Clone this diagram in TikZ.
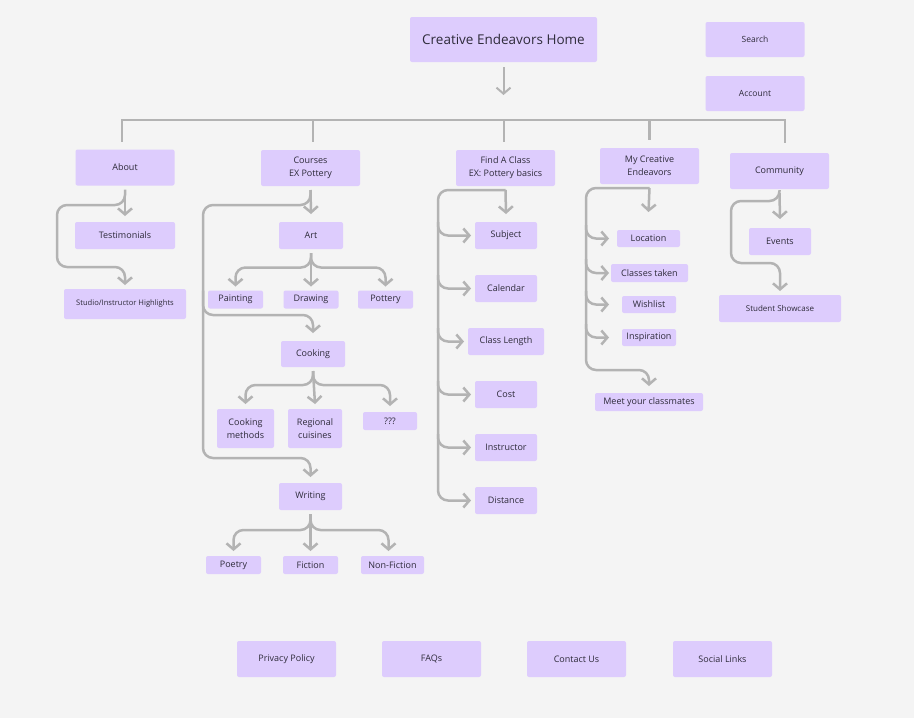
\documentclass[tikz,border=0pt]{standalone}
\usepackage{fontspec}
\setmainfont{Open Sans}
\usetikzlibrary{positioning}
\usetikzlibrary{arrows.meta}
\definecolor{bgGray}{HTML}{F4F4F4}
\definecolor{boxLilac}{HTML}{DDCCFD}
\definecolor{lineGray}{HTML}{B3B3B3}
\definecolor{textDark}{HTML}{2E2B3A}

\begin{document}
\begin{tikzpicture}
[
x=1pt, y=-1pt,
% 文字の設定
every node/.style={inner sep=0, outer sep=0, text=textDark, align=center,
font=\fontsize{9}{13}\selectfont},
% 小さい文字
smalltext/.style={font=\fontsize{7.6}{9}\selectfont},
% ページのブロック
box/.style={rectangle, fill=boxLilac, rounded corners=2pt},
main/.style={box, minimum width=99pt, minimum height=36pt},
sub/.style={box, minimum width=62pt, minimum height=27pt},
leaf/.style={box, minimum width=55pt, minimum height=18pt},
% 線
line/.style={draw=lineGray, line width=2.5pt, rounded corners=10pt},
% 矢印の設定
arrow/.style={line, -{Straight Barb[length=6pt, width=14pt]}}
]
% 背景
\useasboundingbox (0,0) rectangle (914,718);
\fill[bgGray] (0,0) rectangle (914,718);

% ブロックの配置
\node[box, minimum width=187pt, minimum height=45pt, font=\fontsize{13.5}{16}\selectfont]
  (home) at (503.5,39.5) {Creative Endeavors Home};
\node[main, minimum height=35pt, font=\fontsize{8.5}{10}\selectfont] (search) at (755,39.5) {Search};
\node[main, minimum height=35pt, font=\fontsize{8.5}{10}\selectfont] (account) at (755,93.5) {Account};

\node[main] (about) at (125,167.5) {About};
\node[main] (courses) at (310.5,168) {Courses\\EX Pottery};
\node[main] (find) at (505.5,168) {Find A Class\\EX: Pottery basics};
\node[main] (myce) at (649.5,166) {My Creative\\Endeavors};
\node[main] (community) at (779.5,171) {Community};

% About
\node[sub, minimum width=100pt] (testim) at (125,235.5) {Testimonials};
\node[sub, minimum width=122pt, minimum height=30pt, smalltext] (studio) at (125,304)
  {Studio/Instructor Highlights};

% Courses
\node[sub, minimum width=64pt] (art) at (311,235.5) {Art};
\node[leaf] (painting) at (235.5,299.5) {Painting};
\node[leaf] (drawing) at (311,299.5) {Drawing};
\node[leaf] (pottery) at (385.5,299.5) {Pottery};
\node[sub, minimum width=64pt, minimum height=26pt] (cooking) at (313,354) {Cooking};
\node[leaf, minimum width=57pt, minimum height=39pt] (methods) at (245.5,428.5) {Cooking\\methods};
\node[leaf, minimum width=54pt, minimum height=39pt] (regional) at (315,428.5) {Regional\\cuisines};
\node[leaf, minimum width=54pt] (unknown) at (390,421) {???};
\node[sub, minimum width=63pt] (writing) at (310.5,496.5) {Writing};
\node[leaf] (poetry) at (233.5,565) {Poetry};
\node[leaf] (fiction) at (310.5,565) {Fiction};
\node[leaf, minimum width=63pt] (nonfiction) at (392.5,565) {Non-Fiction};

% Find A Class
\node[sub] (subject) at (506,235.5) {Subject};
\node[sub, below=26pt of subject] (calendar) {Calendar};
\node[sub, minimum width=76pt, below=26pt of calendar] (length) {Class Length};
\node[sub, below=26pt of length] (cost) {Cost};
\node[sub, below=26pt of cost] (instructor) {Instructor};
\node[sub, below=26pt of instructor] (distance) {Distance};

% My Creative Endeavors
\node[leaf, minimum width=63pt, minimum height=17pt] (location) at (648.5,238.5) {Location};
\node[leaf, minimum width=77pt] (taken) at (649.5,273) {Classes taken};
\node[leaf, minimum width=54pt, minimum height=17pt] (wishlist) at (649,304.5) {Wishlist};
\node[leaf, minimum width=54pt, minimum height=17pt] (inspiration) at (649,337.5) {Inspiration};
\node[leaf, minimum width=108pt] (meet) at (649,402) {Meet your classmates};

% Community
\node[sub] (events) at (780,241.5) {Events};
\node[sub, minimum width=122pt, font=\fontsize{8}{10}\selectfont] (showcase) at (780,308.5)
  {Student Showcase};

% フッター
\node[main] (privacy) at (286.5,659) {Privacy Policy};
\node[main, right=46pt of privacy] (faqs) {FAQs};
\node[main, right=46pt of faqs] (contact) {Contact Us};
\node[main, right=47pt of contact] (social) {Social Links};

% ブロックの接続
\coordinate (bar) at (0,120);
\draw[arrow, line width=2pt] ([yshift=-5pt]home.south) -- ([yshift=-33pt]home.south);
\draw[line, sharp corners] ([xshift=-3pt, yshift=8pt]about.north) -- ([xshift=-3pt]about.north |- bar)
  -- ([xshift=5.5pt]community.north |- bar) -- ([xshift=5.5pt, yshift=10pt]community.north);
\draw[line] ([xshift=2.5pt]courses.north |- bar) -- ([xshift=2.5pt, yshift=8pt]courses.north);
\draw[line] ([xshift=-1.5pt]find.north |- bar) -- ([xshift=-1.5pt, yshift=8pt]find.north);
\draw[line] (myce.north |- bar) -- ([yshift=8pt]myce.north);

% About
\coordinate (aboutBus) at (57,205);
\draw[arrow] ([yshift=-4pt]about.south) -- ([yshift=6pt]testim.north);
\draw[arrow] ([yshift=-4pt]about.south) |- (aboutBus) |- ([yshift=22pt]studio.north)
  -- ([yshift=4pt]studio.north);

% Courses
\coordinate (coursesBus) at (203,205);
\draw[arrow] ([yshift=-4pt]courses.south) -- ([yshift=8pt]art.north);
\draw[arrow] ([yshift=-4pt]courses.south) |- (coursesBus) |- ([yshift=25pt]writing.north)
  -- ([yshift=6pt]writing.north);
\draw[arrow] (coursesBus |- drawing.north) |- ([yshift=26pt]cooking.north)
  -- ([yshift=8pt]cooking.north);
\draw[arrow] ([yshift=-4pt]art.south) -- ([yshift=4pt]drawing.north);
\draw[arrow] ([yshift=-4pt]art.south) |- ([yshift=23pt]painting.north) -- ([yshift=4pt]painting.north);
\draw[arrow] ([yshift=-4pt]art.south) |- ([yshift=23pt]pottery.north) -- ([yshift=4pt]pottery.north);
\draw[arrow] ([yshift=-4pt]cooking.south) -- ([yshift=5pt]regional.north);
\draw[arrow] ([yshift=-4pt]cooking.south) |- ([yshift=24pt]methods.north) -- ([yshift=5pt]methods.north);
\draw[arrow] ([yshift=-4pt]cooking.south) |- ([yshift=27pt]unknown.north) -- ([yshift=6pt]unknown.north);
\draw[arrow] ([yshift=-4pt]writing.south) -- ([yshift=5pt]fiction.north);
\draw[arrow] ([yshift=-4pt]writing.south) |- ([yshift=26pt]poetry.north) -- ([yshift=5pt]poetry.north);
\draw[arrow] ([yshift=-4pt]writing.south) |- ([xshift=-4pt, yshift=26pt]nonfiction.north)
  -- ([xshift=-4pt, yshift=5pt]nonfiction.north);

% Find A Class
\coordinate (findBus) at (438,215);
\draw[arrow] ([yshift=-4pt]find.south) -- ([yshift=8pt]subject.north);
\draw[arrow] ([yshift=-4pt]find.south) -| (findBus) |- ([xshift=-4pt]distance.west);
\draw[arrow] (findBus |- subject.north) |- ([xshift=-4pt]subject.west);
\draw[arrow] (findBus |- calendar.north) |- ([xshift=-4pt]calendar.west);
\draw[arrow] (findBus |- length.north) |- ([xshift=-4pt]length.west);
\draw[arrow] (findBus |- cost.north) |- ([xshift=-4pt]cost.west);
\draw[arrow] (findBus |- instructor.north) |- ([xshift=-4pt]instructor.west);

% My Creative Endeavors
\coordinate (myceBus) at (586,215);
\coordinate (myceTip) at (609,0);
\draw[arrow] ([yshift=-4pt]myce.south) -- ([yshift=18pt]location.north);
\draw[arrow] ([yshift=-4pt]myce.south) -| (myceBus) |- ([yshift=23pt]meet.north)
  -- ([yshift=7pt]meet.north);
\draw[arrow] ([yshift=5pt]myceBus |- location.north) |- (myceTip |- location);
\draw[arrow] ([yshift=5pt]myceBus |- taken.north) |- (myceTip |- taken);
\draw[arrow] ([yshift=5pt]myceBus |- wishlist.north) |- (myceTip |- wishlist);
\draw[arrow] ([yshift=5pt]myceBus |- inspiration.north) |- (myceTip |- inspiration);

% Community
\coordinate (commBus) at (731,201);
\draw[arrow] ([yshift=-4pt]community.south) -- ([yshift=9pt]events.north);
\draw[arrow] ([yshift=-1pt]community.south) |- (commBus) |- ([yshift=32pt]showcase.north)
  -- ([yshift=4pt]showcase.north);
\end{tikzpicture}
\end{document}
